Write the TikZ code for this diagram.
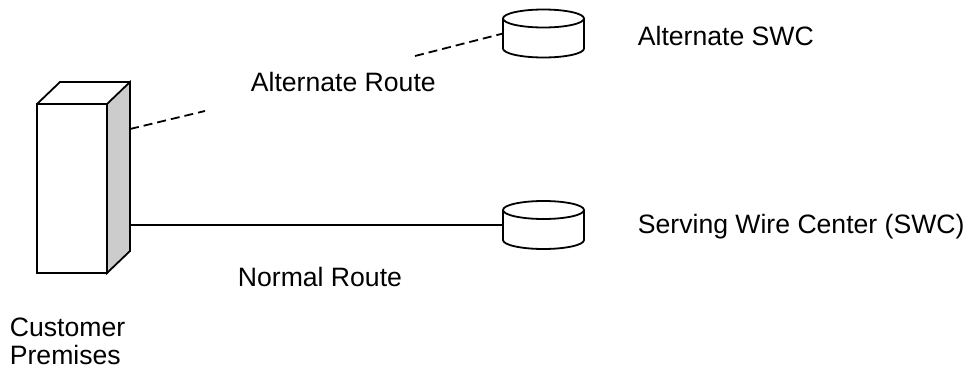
\documentclass[tikz,border=0pt]{standalone}
\usepackage{fontspec}
\setmainfont{Liberation Sans}
\usetikzlibrary{shapes.geometric}
\begin{document}
\begin{tikzpicture}[
		x=1pt,y=-1pt,
		line width=1.8pt,
		wirecenter/.style={cylinder,draw,shape border rotate=90,aspect=3,minimum width=81pt,minimum height=48pt,inner sep=3pt,outer sep=0pt,anchor=shape center},
		label/.style={anchor=base west,font=\fontsize{26.6}{28}\selectfont,inner sep=0pt}
	]
	\useasboundingbox (0,0) rectangle (970,369);
	\node[rectangle,draw,outer sep=0pt,minimum width=70pt,minimum height=169pt] (front) at (72,188.5) {};
	\coordinate (topback) at (60,82);
	\coordinate (sidetop) at (130,82);
	\coordinate (sidebottom) at (130,251);
	\coordinate (normalstart) at (130,225);
	\coordinate (altstart) at (130,129);
	\coordinate (altend) at (205,111);
	\coordinate (altfar) at (415,56);
	\draw[fill=black!20] (front.north east) -- (sidetop) -- (sidebottom) -- (front.south east) -- cycle;
	\draw (front.north west) -- (topback) -- (sidetop);
	\node[wirecenter] (altswc) at (543.5,33.5) {};
	\node[wirecenter] (swc) at (543.5,225) {};
	\draw (normalstart) -- (swc.west |- swc.shape center);
	\draw[dashed,dash pattern=on 9pt off 5pt] (altstart) -- (altend);
	\draw[dashed,dash pattern=on 9pt off 5pt] (altfar) -- (altswc.west |- altswc.shape center);
	\node[label] (altroutetext) at (250,92) {Alternate Route};
	\node[label] (normaltext) at (237,286) {Normal Route};
	\node[label] (altswctext) at (637,46) {Alternate SWC};
	\node[label] (swctext) at (637,233) {Serving Wire Center (SWC)};
	\node[label] (customertext) at (9,336) {Customer};
	\node[label] (premisestext) at (9,364) {Premises};
\end{tikzpicture}
\end{document}
